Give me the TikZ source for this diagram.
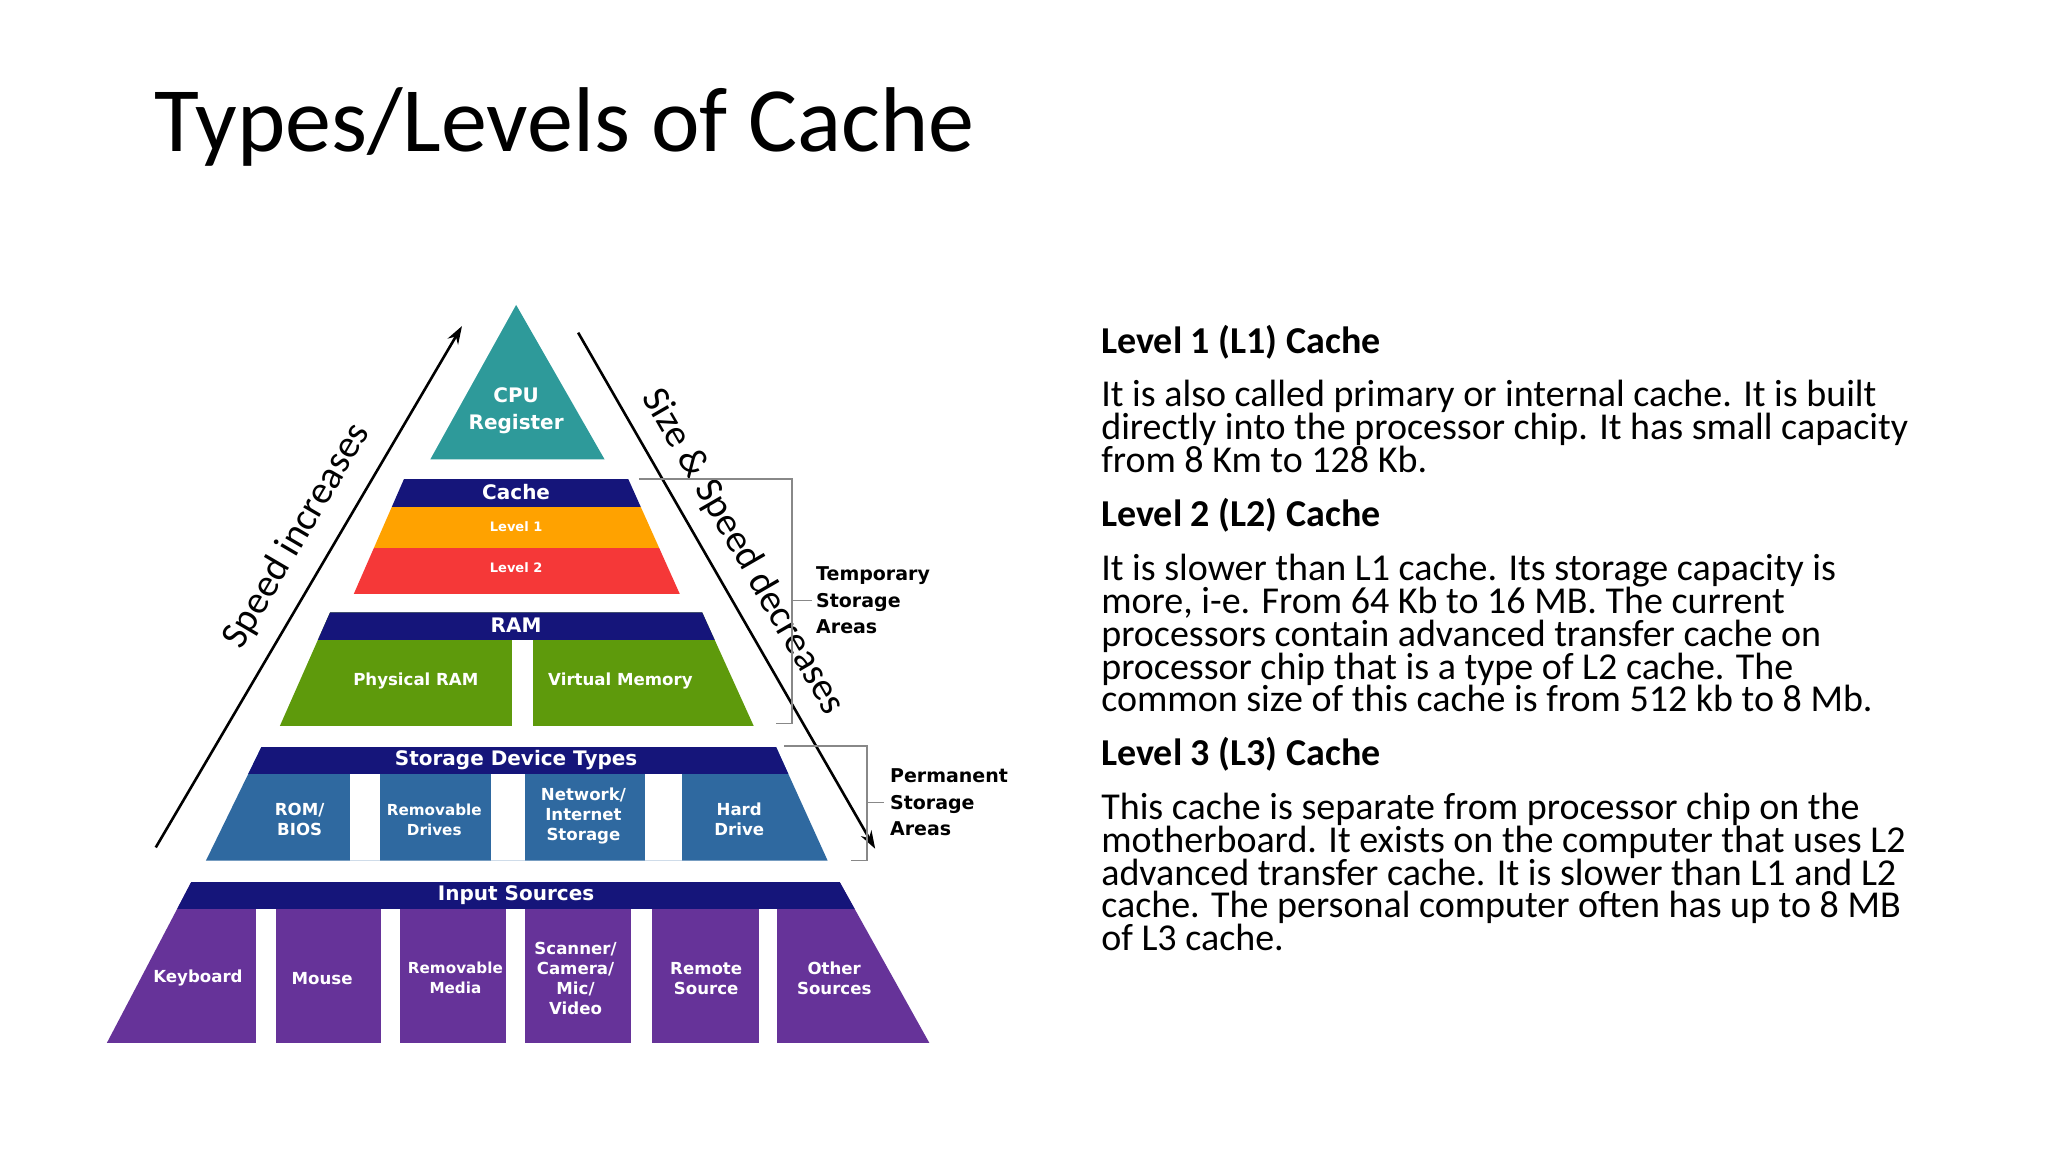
\documentclass[tikz,border=0pt]{standalone}
\usepackage{fontspec}
\setmainfont{Carlito}
\newfontfamily\pyr{DejaVu Sans}
\usetikzlibrary{arrows.meta}
\definecolor{teal1}{HTML}{2E9A9A}
\definecolor{navy1}{HTML}{15157A}
\definecolor{orange1}{HTML}{FFA200}
\definecolor{red1}{HTML}{F53838}
\definecolor{green1}{HTML}{5E9A0C}
\definecolor{blue1}{HTML}{2F69A0}
\definecolor{purple1}{HTML}{663399}
\definecolor{brk}{HTML}{888888}
\begin{document}
\begin{tikzpicture}[x=0.66pt,y=-0.66pt,
  pt/.style={text=white,font=\pyr\bfseries\fontsize{8.3}{10}\selectfont,align=center,inner sep=0},
  sm/.style={text=white,font=\pyr\bfseries\fontsize{6.5}{8}\selectfont,inner sep=0},
  lab/.style={font=\pyr\bfseries\fontsize{9.5}{13.2}\selectfont,align=left,anchor=west,inner sep=0},
  br/.style={brk,line width=0.8pt},
  ln/.style={anchor=base west,inner sep=0,font=\fontsize{19}{19}\selectfont},
  hl/.style={anchor=base west,inner sep=0,font=\bfseries\fontsize{19}{19}\selectfont},
  gap/.style={fill=white}]
\useasboundingbox (0,0) rectangle (1551.5,872.7);
\fill[white] (0,0) rectangle (1551.5,872.7);
\node[anchor=base west,inner sep=0,font=\fontsize{46}{46}\selectfont] (title) at (117,115) {Types/Levels of Cache};
% CPU
\fill[teal1] (391,231) -- (458,348) -- (326,348) -- cycle;
\node[pt,font=\pyr\bfseries\fontsize{10}{13.5}\selectfont] (cpu) at (391,311) {CPU\\Register};
% Cache
\begin{scope}
\clip (306,363) -- (476,363) -- (515,450) -- (268,450) -- cycle;
\fill[navy1] (250,363) rectangle (540,384);
\fill[orange1] (250,384) rectangle (540,415);
\fill[red1] (250,415) rectangle (540,450);
\end{scope}
\node[pt,font=\pyr\bfseries\fontsize{10}{12}\selectfont] (cache) at (391,373) {Cache};
\node[sm] (l1) at (391,399) {Level 1};
\node[sm] (l2) at (391,430) {Level 2};
% RAM
\begin{scope}
\clip (250,464) -- (532,464) -- (571,550) -- (212,550) -- cycle;
\fill[green1] (200,464) rectangle (580,550);
\fill[navy1] (200,464) rectangle (580,485);
\fill[gap] (388,485) rectangle (404,551);
\end{scope}
\node[pt,font=\pyr\bfseries\fontsize{10}{12}\selectfont] (ram) at (391,474) {RAM};
\node[pt] (pram) at (315,516) {Physical RAM};
\node[pt] (vmem) at (470,516) {Virtual Memory};
% Storage
\begin{scope}
\clip (198,566) -- (588,566) -- (627,652) -- (156,652) -- cycle;
\fill[blue1] (150,566) rectangle (640,652);
\fill[navy1] (150,566) rectangle (640,586);
\fill[gap] (265,586) rectangle (288,653);
\fill[gap] (372,586) rectangle (398,653);
\fill[gap] (489,586) rectangle (517,653);
\end{scope}
\node[pt,font=\pyr\bfseries\fontsize{10}{12}\selectfont] (sdt) at (391,576) {Storage Device Types};
\node[pt] (rom) at (227,621) {ROM/\\BIOS};
\node[pt,font=\pyr\bfseries\fontsize{7.6}{10}\selectfont] (rdr) at (329,621) {Removable\\Drives};
\node[pt] (net) at (442,618) {Network/\\Internet\\Storage};
\node[pt] (hdd) at (560,621) {Hard\\Drive};
% Input
\begin{scope}
\clip (145,668) -- (636,668) -- (704,790) -- (81,790) -- cycle;
\fill[purple1] (70,668) rectangle (720,790);
\fill[navy1] (70,668) rectangle (720,689);
\foreach \a/\b in {194/209,289/303,383/398,478/494,575/589}
  \fill[gap] (\a,689) rectangle (\b,791);
\end{scope}
\node[pt,font=\pyr\bfseries\fontsize{10}{12}\selectfont] (inp) at (391,678) {Input Sources};
\node[pt] (kb) at (150,741) {Keyboard};
\node[pt] (ms) at (244,741) {Mouse};
\node[pt,font=\pyr\bfseries\fontsize{7.6}{10}\selectfont] (rm) at (345,741) {Removable\\Media};
\node[pt] (sc) at (436,741) {Scanner/\\Camera/\\Mic/\\Video};
\node[pt] (rs) at (535,741) {Remote\\Source};
\node[pt] (os) at (632,741) {Other\\Sources};
% arrows
\coordinate (a1) at (118,642); \coordinate (a2) at (350,247);
\coordinate (b1) at (438,252); \coordinate (b2) at (663,643);
\draw[line width=1.3pt,-{Stealth[length=9pt,width=6pt]}] (a1) -- (a2);
\draw[line width=1.3pt,-{Stealth[length=9pt,width=6pt]}] (b1) -- (b2);
\node[rotate=59.6,font=\fontsize{19.5}{20}\selectfont] (spd) at (225,406) {Speed increases};
\node[rotate=-60,font=\fontsize{19.5}{20}\selectfont] (ssd) at (563,418) {Size \& Speed decreases};
% brackets
\draw[br] (484,363) -- (600,363) -- (600,548) -- (588,548);
\draw[br] (600,455) -- (615,455);
\node[lab] (tsa) at (618,455) {Temporary\\Storage\\Areas};
\draw[br] (594,565) -- (657,565) -- (657,652) -- (645,652);
\draw[br] (657,608) -- (670,608);
\node[lab] (psa) at (674,608) {Permanent\\Storage\\Areas};
% right text
\node[hl] (h1) at (834,268) {Level 1 (L1) Cache};
\node[ln] (p11) at (834,308) {It is also called primary or internal cache. It is built};
\node[ln] (p12) at (834,333) {directly into the processor chip. It has small capacity};
\node[ln] (p13) at (834,358) {from 8 Km to 128 Kb.};
\node[hl] (h2) at (834,399) {Level 2 (L2) Cache};
\node[ln] (p21) at (834,440) {It is slower than L1 cache. Its storage capacity is};
\node[ln] (p22) at (834,465) {more, i-e. From 64 Kb to 16 MB. The current};
\node[ln] (p23) at (834,490) {processors contain advanced transfer cache on};
\node[ln] (p24) at (834,515) {processor chip that is a type of L2 cache. The};
\node[ln] (p25) at (834,539) {common size of this cache is from 512 kb to 8 Mb.};
\node[hl] (h3) at (834,580) {Level 3 (L3) Cache};
\node[ln] (p31) at (834,621) {This cache is separate from processor chip on the};
\node[ln] (p32) at (834,646) {motherboard. It exists on the computer that uses L2};
\node[ln] (p33) at (834,671) {advanced transfer cache. It is slower than L1 and L2};
\node[ln] (p34) at (834,695) {cache. The personal computer often has up to 8 MB};
\node[ln] (p35) at (834,720) {of L3 cache.};
\end{tikzpicture}
\end{document}
